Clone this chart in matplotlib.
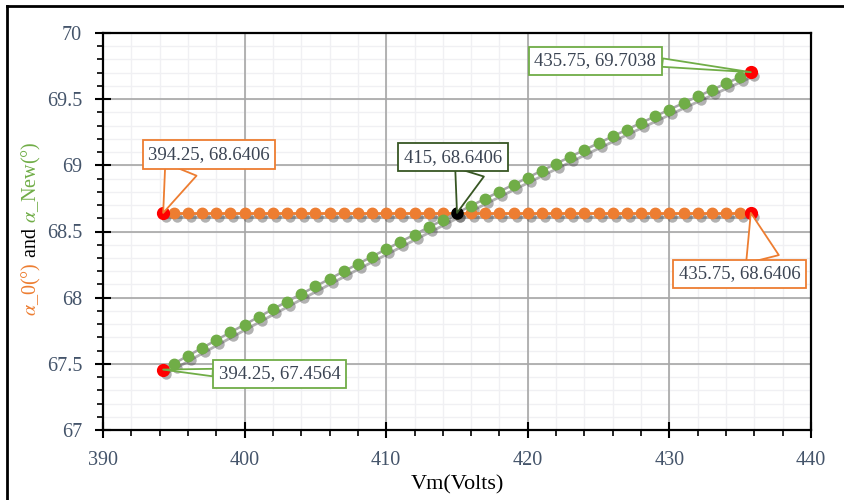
import numpy as np
import matplotlib.pyplot as plt
import matplotlib.transforms as mtransforms
from matplotlib.lines import Line2D
from matplotlib.ticker import MultipleLocator

plt.rcParams['font.family'] = ['Liberation Serif', 'DejaVu Serif']
plt.rcParams['mathtext.fontset'] = 'stix'

## Data
vm = [394.25] + list(range(395, 436)) + [435.75]
alpha_0 = [68.6406] * len(vm)
alpha_new = [67.4564,
             67.5013, 67.5610, 67.6203, 67.6794, 67.7382, 67.7967, 67.8549, 67.9129,
             67.9705, 68.0279, 68.0850, 68.1418, 68.1984, 68.2546, 68.3106, 68.3663,
             68.4217, 68.4769, 68.5317, 68.5863, 68.6406, 68.6946, 68.7483, 68.8018,
             68.8550, 68.9079, 68.9605, 69.0128, 69.0648, 69.1166, 69.1681, 69.2193,
             69.2702, 69.3209, 69.3712, 69.4213, 69.4711, 69.5206, 69.5699, 69.6188,
             69.6675,
             69.7038]
red_x = [394.25, 394.25, 435.75, 435.75]
red_y = [68.6406, 67.4564, 68.6406, 69.7038]
cross_x, cross_y = 415, 68.6406

## Callout labels: (x, y, text, edge colour, offset in points, tail start, tail width)
callouts = [
    (394.25, 68.6406, '394.25, 68.6406', '#ed7d31', (33, 42), (0.29, 0), 1.8),
    (415, 68.6406, '415, 68.6406', '#375623', (-3, 40), (0.69, 0), 1.6),
    (435.75, 69.7038, '435.75, 69.7038', '#70ad47', (-112, 8), (1, 0.45), 0.45),
    (435.75, 68.6406, '435.75, 68.6406', '#ed7d31', (-8, -44), (0.7, 1), 1.8),
    (394.25, 67.4564, '394.25, 67.4564', '#70ad47', (84, -3), (0, 0.55), 0.4),
]

orange = '#ed7d31'
green = '#70ad47'
tick_col = '#44546a'

fig = plt.figure(figsize=(8.45, 5), dpi=100)
ax = fig.add_axes([103/845, 70/500, 708/845, 397/500])

# faint minor grid drawn under the major one
ax.vlines(np.arange(392, 440, 2), 67, 70, color='#f0f0f3', lw=1.0, zorder=0.1)
ax.hlines(np.arange(67.1, 70, 0.1), 390, 440, color='#f0f0f3', lw=1.0, zorder=0.1)

# drop shadows (offset copy of each series)
shadow = mtransforms.offset_copy(ax.transData, fig=fig, x=3, y=-4, units='dots')
ax.plot(vm, alpha_0, color='#404040', alpha=0.4, lw=2, marker='o', ms=7.5,
        mec='none', transform=shadow, zorder=3)
ax.plot(vm, alpha_new, color='#404040', alpha=0.4, lw=2, marker='o', ms=7.5,
        mec='none', transform=shadow, zorder=3)

ax.plot(vm, alpha_0, color=orange, lw=2, marker='o', ms=7.5, mfc=orange,
        mec=orange, zorder=4)
ax.plot(vm, alpha_new, color='#a5a5a5', lw=1.8, marker='o', ms=7.5, mfc=green,
        mec=green, zorder=5)
ax.plot(red_x, red_y, linestyle='none', marker='o', ms=8.5, color='#ff0000', zorder=6)
ax.plot([cross_x], [cross_y], linestyle='none', marker='o', ms=8, color='black', zorder=7)

for x, y, s, col, off, rel, tw in callouts:
    ax.annotate(s, xy=(x, y), xytext=off, textcoords='offset points',
                ha='center', va='center', fontsize=13.5, color='#3b4453', zorder=8,
                bbox=dict(boxstyle='square,pad=0.3', fc='white', ec=col, lw=1.3),
                arrowprops=dict(arrowstyle=f'wedge,tail_width={tw}', fc='white',
                                ec=col, lw=1.3, shrinkA=0, shrinkB=0, relpos=rel))

ax.set_xlim(390, 440)
ax.set_ylim(67, 70)
ax.xaxis.set_major_locator(MultipleLocator(10))
ax.xaxis.set_minor_locator(MultipleLocator(2))
ax.yaxis.set_major_locator(MultipleLocator(0.5))
ax.yaxis.set_minor_locator(MultipleLocator(0.1))
ax.yaxis.set_major_formatter(plt.FuncFormatter(lambda v, p: f'{v:g}'))

ax.grid(which='major', color='#a6a6a6', lw=1.2)
ax.set_axisbelow(True)
for sp in ax.spines.values():
    sp.set_linewidth(1.6)
    sp.set_color('black')

ax.tick_params(which='major', direction='inout', length=12, width=1.5,
               labelsize=14.5, labelcolor=tick_col)
ax.tick_params(axis='x', which='major', pad=9)
ax.tick_params(axis='y', which='major', pad=9)
ax.tick_params(which='minor', direction='out', length=4, width=1.2)

ax.set_xlabel('Vm(Volts)', fontsize=16, color='black', labelpad=4)

## Multi-coloured vertical y label, stacked from the bottom
fig.canvas.draw()
r = fig.canvas.get_renderer()
parts = [(r'$\alpha$_0(°)', orange), (' and ', 'black'), (r'$\alpha$_New(°)', green)]
texts = []
for s, c in parts:
    t = fig.text(0, 0, s, rotation=90, fontsize=14.5, color=c, ha='center',
                 va='bottom', transform=None)
    texts.append(t)
heights = [t.get_window_extent(r).height for t in texts]
y0 = (500 - 229) - sum(heights) / 2
for t, h in zip(texts, heights):
    t.set_position((31, y0))
    y0 += h

## outer frame
fig.add_artist(Line2D([7/845, 1], [1 - 6/500, 1 - 6/500], color='black', lw=2,
                      transform=fig.transFigure))
fig.add_artist(Line2D([7/845, 7/845], [0, 1 - 6/500], color='black', lw=2,
                      transform=fig.transFigure))

fig.savefig('out.png', dpi=100)
